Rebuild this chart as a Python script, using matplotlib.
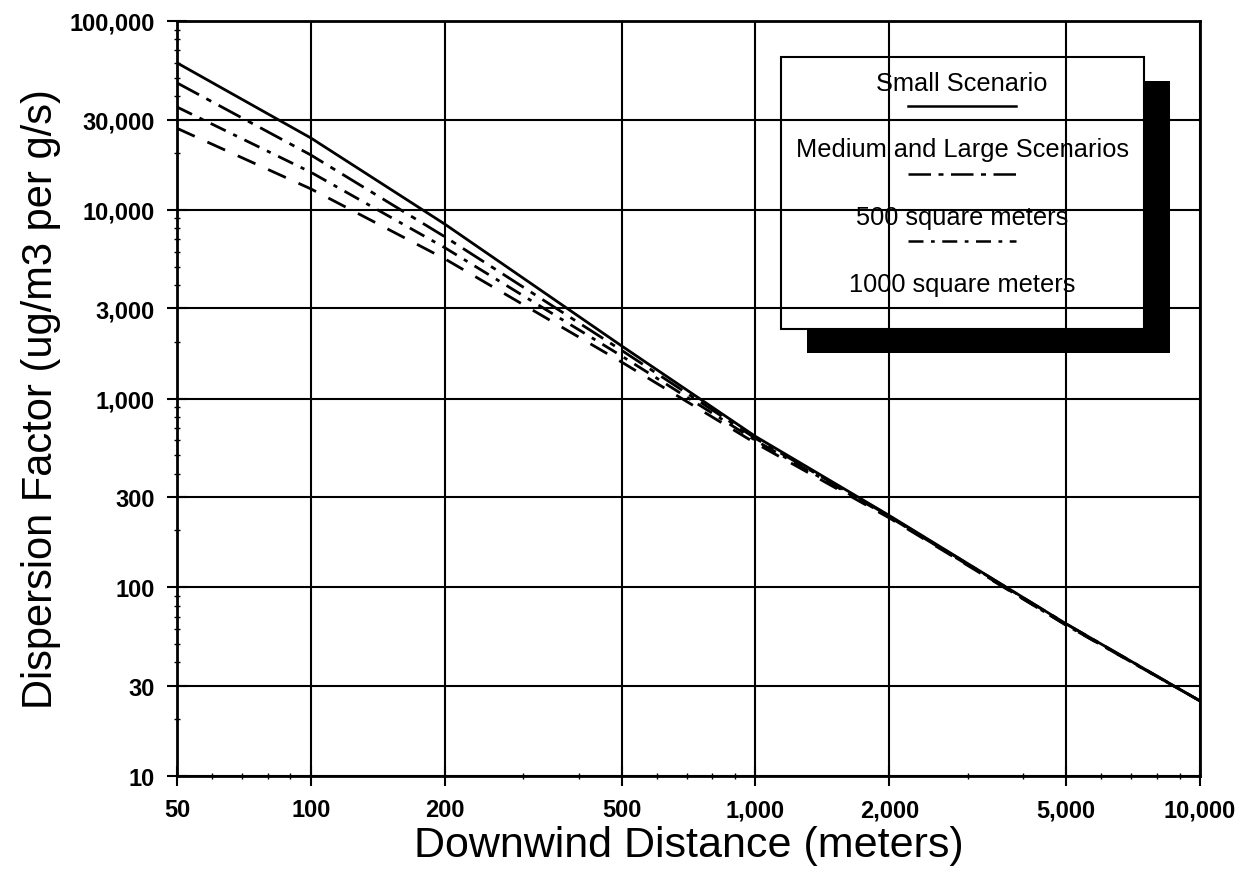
import matplotlib
matplotlib.use("Agg")
import matplotlib.pyplot as plt
from matplotlib.ticker import FixedLocator, FixedFormatter, LogLocator, NullFormatter
from matplotlib.patches import Rectangle

plt.rcParams['font.family'] = ['Liberation Sans', 'DejaVu Sans']

# downwind distance (m) and dispersion factor (ug/m3 per g/s)
distance = [50, 100, 200, 500, 1000, 2000, 5000, 10000]
small = [60000, 24000, 8400, 1900, 630, 240, 64, 25]
medium_large = [47000, 19500, 7200, 1800, 615, 238, 64, 25]
sq500 = [35000, 15800, 6300, 1680, 600, 236, 63, 25]
sq1000 = [27000, 12900, 5500, 1560, 580, 233, 63, 25]

series_names = ["Small Scenario", "Medium and Large Scenarios",
                "500 square meters", "1000 square meters"]

x_ticks = [50, 100, 200, 500, 1000, 2000, 5000, 10000]
x_tick_labels = ["50", "100", "200", "500", "1,000", "2,000", "5,000", "10,000"]
y_ticks = [10, 30, 100, 300, 1000, 3000, 10000, 30000, 100000]
y_tick_labels = ["10", "30", "100", "300", "1,000", "3,000", "10,000", "30,000", "100,000"]

fig = plt.figure(figsize=(12.58, 8.79), dpi=100)
ax = fig.add_axes([0.1407, 0.116, 0.8132, 0.859])

styles = ['-', (0, (9, 3, 2, 3)), (0, (6, 3, 1.5, 3)), (0, (7, 5))]
for ys, ls, name in zip([small, medium_large, sq500, sq1000], styles, series_names):
    ax.plot(distance, ys, color='black', linestyle=ls, linewidth=2, label=name)

ax.set_xscale('log')
ax.set_yscale('log')
ax.set_xlim(50, 10000)
ax.set_ylim(10, 100000)

ax.xaxis.set_major_locator(FixedLocator(x_ticks))
ax.xaxis.set_major_formatter(FixedFormatter(x_tick_labels))
ax.yaxis.set_major_locator(FixedLocator(y_ticks))
ax.yaxis.set_major_formatter(FixedFormatter(y_tick_labels))
ax.xaxis.set_minor_locator(LogLocator(base=10, subs=range(2, 10), numticks=20))
ax.yaxis.set_minor_locator(LogLocator(base=10, subs=range(2, 10), numticks=20))
ax.xaxis.set_minor_formatter(NullFormatter())
ax.yaxis.set_minor_formatter(NullFormatter())

ax.tick_params(which='major', direction='inout', length=14, width=1.5,
               labelsize=17, pad=9)
ax.tick_params(which='minor', direction='inout', length=5, width=1)
ax.tick_params(axis='x', which='major', pad=9)
for lab in ax.get_xticklabels() + ax.get_yticklabels():
    lab.set_fontweight('bold')

ax.grid(True, which='major', color='black', linewidth=1.5)
for sp in ax.spines.values():
    sp.set_linewidth(2)

ax.set_xlabel("Downwind Distance (meters)", fontsize=31, labelpad=3)
ax.set_ylabel("Dispersion Factor (ug/m3 per g/s)", fontsize=30, labelpad=6)

# legend box with L-shaped drop shadow, drawn by hand (text above sample line)
tr = ax.transAxes
bx0, by0, bw, bh = 0.59, 0.592, 0.355, 0.36
off_x, off_y = 0.026, 0.032
ax.add_patch(Rectangle((bx0 + bw, by0 - off_y), off_x, bh, transform=tr,
                       facecolor='black', edgecolor='none', zorder=3))
ax.add_patch(Rectangle((bx0 + off_x, by0 - off_y), bw, off_y, transform=tr,
                       facecolor='black', edgecolor='none', zorder=3))
ax.add_patch(Rectangle((bx0, by0), bw, bh, transform=tr,
                       facecolor='none', edgecolor='black', linewidth=1.5, zorder=4))

text_y = [0.918, 0.831, 0.741, 0.651]
line_y = [0.887, 0.797, 0.708]
for i, name in enumerate(series_names):
    ax.text(0.7675, text_y[i], name, transform=tr, ha='center', va='center',
            fontsize=18.3, zorder=5)
for i in range(3):
    ax.plot([0.715, 0.82], [line_y[i], line_y[i]], transform=tr, color='black',
            linestyle=styles[i], linewidth=1.8, zorder=5)

fig.savefig("out.png", dpi=100)
